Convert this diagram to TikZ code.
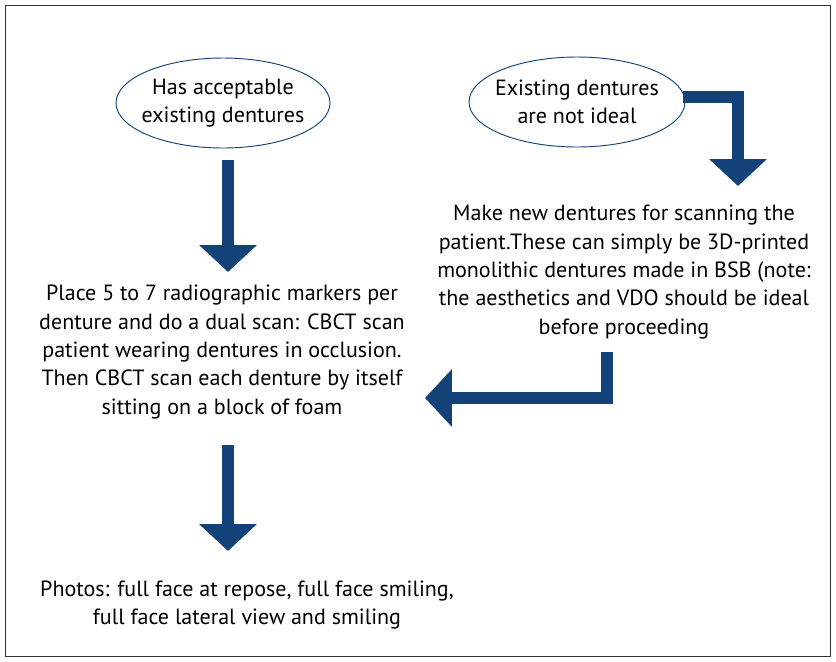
\documentclass[tikz,border=0pt]{standalone}
\usepackage{fontspec}
\setmainfont{PT Sans}
\usetikzlibrary{arrows.meta,positioning}
\definecolor{flowblue}{RGB}{18,66,120}
\begin{document}
\begin{tikzpicture}[x=0.03cm,y=-0.03cm,
    txt/.style={align=center,font=\fontsize{18.8}{24.3}\selectfont,inner sep=0pt},
    bigarrow/.style={draw=flowblue,line width=10.5pt,-{Triangle[width=48pt,length=23pt]}}]
    \useasboundingbox (0,0) rectangle (836,661);
    \draw [black!80,thick] (5,5) rectangle (830,656);
    % ovals
    \draw [flowblue,thick] (223,103) ellipse (107 and 45);
    \node [txt] (acc) at (223,103) {Has acceptable\\existing dentures};
    \draw [flowblue,thick] (577,102) ellipse (108 and 45);
    \node [txt] (notideal) at (577,102) {Existing dentures\\are not ideal};
    % text blocks
    \node [txt] (newdent) at (624,272) {Make new dentures for scanning the\\patient.These can simply be 3D-printed\\monolithic dentures made in BSB (note:\\the aesthetics and VDO should be ideal\\before proceeding};
    \node [txt] (markers) at (222,352) {Place 5 to 7 radiographic markers per\\denture and do a dual scan: CBCT scan\\patient wearing dentures in occlusion.\\Then CBCT scan each denture by itself\\sitting on a block of foam};
    \node [txt] (photos) at (247,605) {Photos: full face at repose, full face smiling,\\full face lateral view and smiling};
    % connectors
    \coordinate (a1s) at (228,160);
    \coordinate (a1e) at (228,272);
    \draw [bigarrow] (a1s) -- (a1e);
    \coordinate (a2s) at (683,97);
    \coordinate (a2e) at (738,186);
    \draw [bigarrow] (a2s) -| (a2e);
    \coordinate (a3s) at (607,352);
    \coordinate (a3e) at (425,398);
    \draw [bigarrow] (a3s) |- (a3e);
    \coordinate (a4s) at (228,445);
    \coordinate (a4e) at (228,551);
    \draw [bigarrow] (a4s) -- (a4e);
\end{tikzpicture}
\end{document}
